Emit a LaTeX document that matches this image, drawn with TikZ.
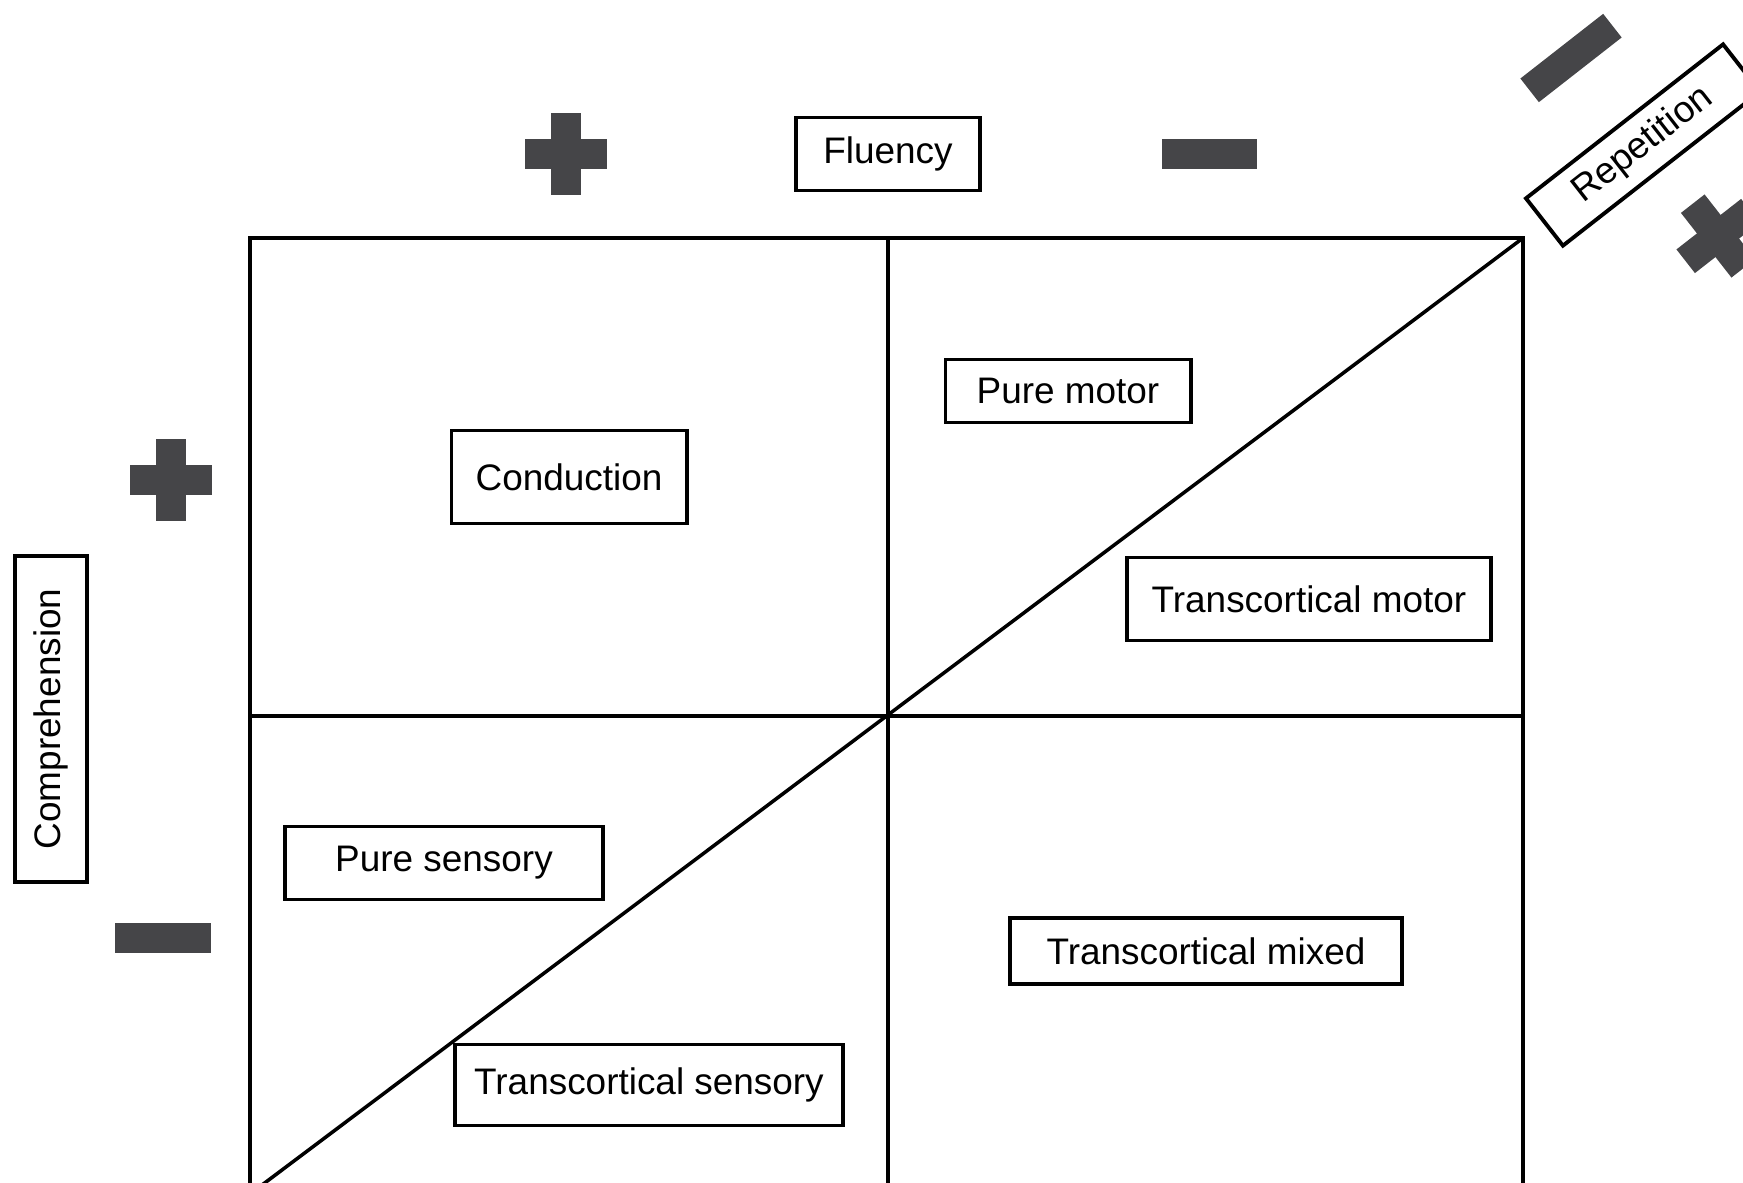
\documentclass[tikz,border=0pt]{standalone}
\usepackage{fontspec}
\setmainfont{Liberation Sans}
\usepackage{xcolor}
\usetikzlibrary{positioning}
\definecolor{signgray}{HTML}{454548}

\begin{document}
\begin{tikzpicture}[
    x=0.01cm, y=-0.01cm,
    tag/.style={draw, line width=1.1pt, inner sep=0pt, align=center,
                font=\fontsize{10.5}{12}\selectfont},
    bar/.style={fill=signgray, inner sep=0pt, minimum width=0.82cm, minimum height=0.3cm},
    longbar/.style={bar, minimum width=0.95cm},
    gridline/.style={line width=1pt}
]
    \clip (0,0) rectangle (1743,1182);

    % the four fields
    \coordinate (nw) at (250,238);
    \coordinate (ne) at (1523,238);
    \coordinate (sw) at (250,1194);
    \coordinate (se) at (1523,1194);
    \coordinate (mid) at (888,716);
    \draw[gridline] (nw) rectangle (se);
    \draw[gridline] (mid |- nw) -- (mid |- sw);
    \draw[gridline] (mid -| nw) -- (mid -| ne);
    \draw[gridline] (ne) -- (sw);

    % axis labels
    \node[tag, minimum width=1.84cm, minimum height=0.73cm] (fluency) at (888,154) {Fluency};
    \node[tag, rotate=90, minimum width=3.26cm, minimum height=0.72cm] (compr) at (51,719) {Comprehension};
    \node[tag, rotate=38, minimum width=2.5cm, minimum height=0.6cm] (rep) at (1643,145) {Repetition};

    % signs
    \node[bar, left=1.86cm of fluency] (flu-plus) {};
    \node[bar, rotate=90] (flu-plus-v) at (flu-plus) {};
    \node[longbar, right=1.79cm of fluency] (flu-minus) {};
    \node[bar] (comp-plus) at (171,480) {};
    \node[bar, rotate=90] (comp-plus-v) at (comp-plus) {};
    \node[longbar] (comp-minus) at (163,938) {};
    \node[longbar, rotate=38, minimum width=1.05cm] (rep-minus) at (1571,58) {};
    \node[bar, rotate=38] (rep-plus) at (1718,236) {};
    \node[bar, rotate=128] (rep-plus-v) at (rep-plus) {};

    % aphasia types
    \node[tag, minimum width=2.35cm, minimum height=0.93cm] (conduction) at (569,477) {Conduction};
    \node[tag, minimum width=2.45cm, minimum height=0.63cm] (puremotor) at (1068,391) {Pure motor};
    \node[tag, minimum width=3.63cm, minimum height=0.83cm] (tcmotor) at (1309,599) {Transcortical motor};
    \node[tag, minimum width=3.17cm, minimum height=0.73cm] (puresens) at (444,863) {Pure sensory};
    \node[tag, minimum width=3.87cm, minimum height=0.81cm] (tcsens) at (649,1085) {Transcortical sensory};
    \node[tag, minimum width=3.91cm, minimum height=0.66cm] (tcmixed) at (1206,951) {Transcortical mixed};
\end{tikzpicture}
\end{document}
